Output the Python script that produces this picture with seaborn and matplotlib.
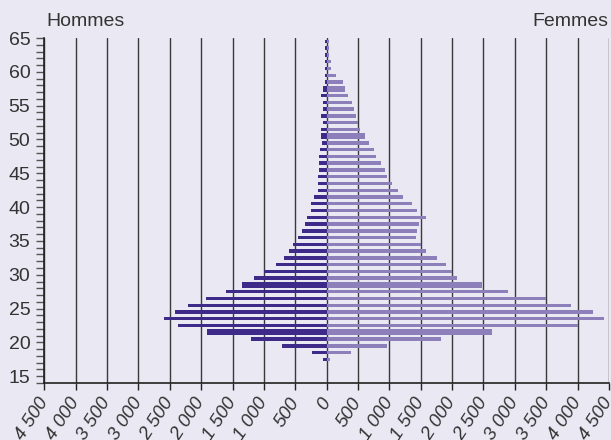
import numpy as np
import pandas as pd
import matplotlib
matplotlib.use("Agg")
import matplotlib.pyplot as plt
from matplotlib.ticker import MultipleLocator
import seaborn as sns

# ---- data ----
ages = [64, 63, 62, 61, 60, 59, 58, 57, 56, 55, 54, 53, 52, 51, 50, 49,
        48, 47, 46, 45, 44, 43, 42, 41, 40, 39, 38, 37, 36, 35, 34, 33,
        32, 31, 30, 29, 28, 27, 26, 25, 24, 23, 22, 21, 20, 19, 18, 17]
hommes = [20, 20, 20, 20, 20, 20, 20, 57, 82, 57, 57, 82, 57, 82, 82, 80,
          107, 117, 117, 117, 144, 144, 144, 197, 252, 252, 312, 341, 398, 455, 540, 597,
          687, 805, 1006, 1150, 1352, 1608, 1927, 2214, 2420, 2596, 2362, 1905, 1203, 715, 226, 56]
femmes = [32, 32, 32, 62, 62, 146, 262, 290, 348, 406, 433, 465, 492, 528, 606, 668,
          760, 787, 872, 930, 962, 1045, 1130, 1215, 1358, 1446, 1590, 1477, 1446, 1418, 1504, 1590,
          1760, 1908, 1993, 2075, 2480, 2885, 3490, 3900, 4245, 4415, 4010, 2630, 1820, 955, 382, 60]
x_ticks = list(range(-4500, 4501, 500))
y_ticks = [15, 20, 25, 30, 35, 40, 45, 50, 55, 60, 65]
thick_rows = [57, 50, 28, 21]   # rows drawn thicker in the reference

BG = "#E9E8F3"
MALE = "#3E2A88"
FEMALE = "#8D7FBA"
TXT = "#333333"

sns.set_theme(style="white", rc={"axes.facecolor": BG, "figure.facecolor": BG,
                                 "savefig.facecolor": BG})
plt.rcParams["font.family"] = ["Liberation Sans", "DejaVu Sans"]

fig = plt.figure(figsize=(6.11, 4.40), dpi=100)
ax = fig.add_axes([0.0725, 0.1295, 0.9242, 0.7841])

df = pd.DataFrame({"age": np.array(ages) + 0.5,
                   "Hommes": -np.array(hommes),
                   "Femmes": np.array(femmes)})

ax.set_axisbelow(True)
sns.barplot(data=df, x="Hommes", y="age", orient="h", native_scale=True,
            width=0.5, color=MALE, saturation=1, errorbar=None, linewidth=0, ax=ax)
sns.barplot(data=df, x="Femmes", y="age", orient="h", native_scale=True,
            width=0.5, color=FEMALE, saturation=1, errorbar=None, linewidth=0, ax=ax)

for p in ax.patches:
    c = p.get_y() + p.get_height() / 2
    if int(round(c - 0.5)) in thick_rows:
        p.set_y(c - 0.45)
        p.set_height(0.9)

ax.set_xlim(-4500, 4500)
ax.set_ylim(14, 65)
ax.set_xlabel("")
ax.set_ylabel("")

ax.set_xticks(x_ticks)
ax.set_xticklabels([f"{abs(v):,}".replace(",", " ") for v in x_ticks])
ax.xaxis.grid(True, color="#3a3a3a", linewidth=1)
ax.yaxis.grid(False)

ax.set_yticks(y_ticks)
ax.yaxis.set_minor_locator(MultipleLocator(1))

for s in ["top", "right"]:
    ax.spines[s].set_visible(False)
for s in ["left", "bottom"]:
    ax.spines[s].set_color("#222222")
    ax.spines[s].set_linewidth(1.2)

ax.tick_params(axis="y", which="both", left=True, direction="out", length=6,
               width=1, color="#555555", labelsize=14, labelcolor=TXT, pad=4)
ax.tick_params(axis="x", which="major", bottom=True, direction="out", length=5,
               width=1, color="#222222", labelsize=13.5, labelcolor=TXT, pad=7)
for lab in ax.get_xticklabels():
    lab.set_rotation(57)
    lab.set_ha("right")
    lab.set_va("center")
    lab.set_rotation_mode("anchor")
    lab.set_fontstyle("italic")

fig.text(46 / 611, 1 - 25.5 / 440, "Hommes", fontsize=14, color=TXT, ha="left", va="baseline")
fig.text(608 / 611, 1 - 25.5 / 440, "Femmes", fontsize=14, color=TXT, ha="right", va="baseline")

fig.savefig("out.png", dpi=100)
